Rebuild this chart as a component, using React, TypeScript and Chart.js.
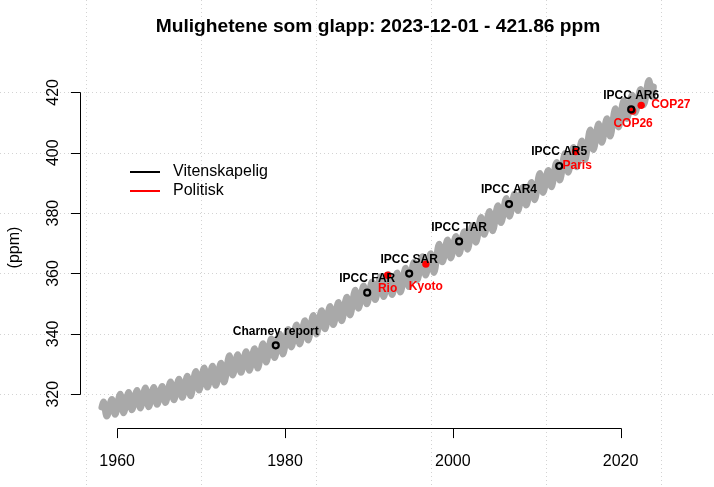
import React, { useEffect, useRef } from "react";
import { Chart, registerables } from "chart.js";

Chart.register(...registerables);

// ---------- data ----------
const titleText = "Mulighetene som glapp: 2023-12-01 - 421.86 ppm";
const yAxisTitle = "(ppm)";

const years = [
  1958, 1959, 1960, 1961, 1962, 1963, 1964, 1965, 1966, 1967,
  1968, 1969, 1970, 1971, 1972, 1973, 1974, 1975, 1976, 1977,
  1978, 1979, 1980, 1981, 1982, 1983, 1984, 1985, 1986, 1987,
  1988, 1989, 1990, 1991, 1992, 1993, 1994, 1995, 1996, 1997,
  1998, 1999, 2000, 2001, 2002, 2003, 2004, 2005, 2006, 2007,
  2008, 2009, 2010, 2011, 2012, 2013, 2014, 2015, 2016, 2017,
  2018, 2019, 2020, 2021, 2022, 2023,
];
// seasonal maximum (May) of each year, ppm
const peakPpm = [
  317.5, 318.3, 320.0, 320.6, 321.3, 322.1, 322.3, 322.6, 324.1, 325.0,
  326.0, 327.6, 328.7, 329.3, 330.3, 332.8, 333.1, 334.1, 335.1, 336.8,
  338.3, 339.9, 341.5, 343.0, 344.4, 346.1, 347.7, 349.1, 350.4, 352.2,
  354.5, 355.9, 357.2, 359.0, 359.6, 360.2, 361.8, 363.8, 365.6, 366.6,
  369.7, 371.1, 372.3, 373.9, 375.9, 378.6, 380.6, 382.5, 384.9, 386.4,
  388.6, 390.2, 393.2, 394.2, 396.8, 399.8, 401.8, 403.9, 407.6, 409.6,
  411.3, 414.6, 417.3, 419.1, 421.0, 424.0,
];
// seasonal minimum (Sep/Oct) of each year, ppm
const troughPpm = [
  312.7, 313.3, 313.8, 314.8, 315.4, 315.8, 316.6, 317.2, 318.1, 318.9,
  319.4, 321.3, 322.3, 322.9, 324.0, 326.3, 327.2, 327.9, 328.6, 330.6,
  332.1, 333.3, 335.6, 336.6, 337.9, 339.9, 341.6, 343.0, 344.3, 346.2,
  348.4, 349.9, 351.3, 352.3, 353.0, 353.8, 355.6, 357.8, 359.4, 360.3,
  363.8, 365.1, 366.5, 368.0, 370.3, 372.9, 374.1, 376.8, 378.9, 380.8,
  382.6, 384.4, 386.8, 388.7, 390.9, 393.5, 395.3, 397.6, 401.0, 403.4,
  405.5, 408.5, 411.3, 413.3, 415.9, 418.5,
];
const peakYearFraction = 0.375; // mid May
const troughYearFraction = 0.75; // end of September
const firstObs = { year: 1958.17, ppm: 315.7 };
const lastObs = { year: 2023.917, ppm: 421.86 };

const sciLabels = ["Charney report", "IPCC FAR", "IPCC SAR", "IPCC TAR", "IPCC AR4", "IPCC AR5", "IPCC AR6"];
const sciYears = [1978.9, 1989.8, 1994.8, 2000.75, 2006.7, 2012.68, 2021.26];
const sciPpm = [336.2, 353.65, 359.97, 370.6, 383.0, 395.6, 414.35];

const polLabels = ["Rio", "Kyoto", "Paris", "COP26", "COP27"];
const polYears = [1992.23, 1996.79, 2014.64, 2021.43, 2022.45];
const polPpm = [359.4, 363.1, 400.4, 413.8, 415.7];

const legendLabels = ["Vitenskapelig", "Politisk"];

const xTicks = [1960, 1980, 2000, 2020];
const yTicks = [320, 340, 360, 380, 400, 420];
// grid lines (every 5000 days from 1970-01-01)
const xGridYears = [1956.31, 1970.0, 1983.69, 1997.38, 2011.07, 2024.76];

// ---------- style ----------
const FONT = '"Liberation Sans", Arial, Helvetica, sans-serif';
const COL_LINE = "#A9A9A9";
const COL_RED = "#FF0000";
const COL_GRID = "#D3D3D3";
const polLabelStyle = [
  { dx: 0, dy: 13.5, align: "center" },
  { dx: 0, dy: 22.4, align: "center" },
  { dx: 1.5, dy: 14, align: "center" },
  { dx: 0.5, dy: 12.6, align: "center" },
  { dx: 10, dy: -1, align: "left" },
];

const rPlot = {
  id: "rplot",
  beforeDatasetsDraw(chart: any) {
    const { ctx, width, height } = chart;
    const xs = chart.scales.x;
    const ys = chart.scales.y;
    ctx.save();
    ctx.strokeStyle = COL_GRID;
    ctx.lineWidth = 1;
    ctx.setLineDash([1, 3]);
    xGridYears.forEach((g) => {
      const px = Math.round(xs.getPixelForValue(g)) + 0.5;
      ctx.beginPath();
      ctx.moveTo(px, 0);
      ctx.lineTo(px, height);
      ctx.stroke();
    });
    yTicks.forEach((t) => {
      const py = Math.round(ys.getPixelForValue(t)) + 0.5;
      ctx.beginPath();
      ctx.moveTo(0, py);
      ctx.lineTo(width, py);
      ctx.stroke();
    });
    ctx.restore();
  },
  afterDatasetsDraw(chart: any) {
    const { ctx, chartArea } = chart;
    const xs = chart.scales.x;
    const ys = chart.scales.y;
    const tick = 9.6;
    ctx.save();
    ctx.strokeStyle = "#000";
    ctx.fillStyle = "#000";
    ctx.lineWidth = 1;
    ctx.setLineDash([]);

    // x axis
    const ay = Math.round(chartArea.bottom) + 0.5;
    const x0 = Math.round(xs.getPixelForValue(xTicks[0])) + 0.5;
    const x1 = Math.round(xs.getPixelForValue(xTicks[xTicks.length - 1])) + 0.5;
    ctx.beginPath();
    ctx.moveTo(x0, ay);
    ctx.lineTo(x1, ay);
    xTicks.forEach((t) => {
      const px = Math.round(xs.getPixelForValue(t)) + 0.5;
      ctx.moveTo(px, ay);
      ctx.lineTo(px, ay + tick);
    });
    ctx.stroke();
    ctx.font = `16px ${FONT}`;
    ctx.textAlign = "center";
    ctx.textBaseline = "middle";
    xTicks.forEach((t) => {
      ctx.fillText(String(t), xs.getPixelForValue(t), ay + 33);
    });

    // y axis
    const ax = Math.round(chartArea.left) + 0.5;
    const y0 = Math.round(ys.getPixelForValue(yTicks[0])) + 0.5;
    const y1 = Math.round(ys.getPixelForValue(yTicks[yTicks.length - 1])) + 0.5;
    ctx.beginPath();
    ctx.moveTo(ax, y0);
    ctx.lineTo(ax, y1);
    yTicks.forEach((t) => {
      const py = Math.round(ys.getPixelForValue(t)) + 0.5;
      ctx.moveTo(ax, py);
      ctx.lineTo(ax - tick, py);
    });
    ctx.stroke();
    yTicks.forEach((t) => {
      ctx.save();
      ctx.translate(ax - 27, ys.getPixelForValue(t));
      ctx.rotate(-Math.PI / 2);
      ctx.fillText(String(t), 0, 0);
      ctx.restore();
    });
    ctx.save();
    ctx.translate(15, (chartArea.top + chartArea.bottom) / 2);
    ctx.rotate(-Math.PI / 2);
    ctx.fillText(yAxisTitle, 0, 0);
    ctx.restore();

    // title
    ctx.font = `bold 19.2px ${FONT}`;
    ctx.fillText(titleText, (chartArea.left + chartArea.right) / 2, 27);

    // legend
    const lgX = 130;
    const lgY = [172, 191];
    const lgCol = ["#000", COL_RED];
    ctx.font = `16px ${FONT}`;
    ctx.textAlign = "left";
    legendLabels.forEach((lab, i) => {
      ctx.strokeStyle = lgCol[i];
      ctx.lineWidth = 2;
      ctx.beginPath();
      ctx.moveTo(lgX, lgY[i]);
      ctx.lineTo(lgX + 30, lgY[i]);
      ctx.stroke();
      ctx.fillStyle = "#000";
      ctx.fillText(lab, lgX + 43, lgY[i]);
    });

    // event labels
    ctx.font = `bold 12px ${FONT}`;
    const sciMeta = chart.getDatasetMeta(0);
    ctx.textAlign = "center";
    ctx.fillStyle = "#000";
    sciMeta.data.forEach((pt: any, i: number) => {
      ctx.fillText(sciLabels[i], pt.x, pt.y - 14);
    });
    const polMeta = chart.getDatasetMeta(1);
    ctx.fillStyle = COL_RED;
    polMeta.data.forEach((pt: any, i: number) => {
      const s = polLabelStyle[i];
      ctx.textAlign = s.align;
      ctx.fillText(polLabels[i], pt.x + s.dx, pt.y + s.dy);
    });
    ctx.restore();
  },
};

export default function App() {
  const ref = useRef<HTMLCanvasElement>(null);
  useEffect(() => {
    document.body.style.margin = "0";
    const canvas = ref.current!;
    const co2: { x: number; y: number }[] = [{ x: firstObs.year, y: firstObs.ppm }];
    years.forEach((yr, i) => {
      co2.push({ x: yr + peakYearFraction, y: peakPpm[i] });
      co2.push({ x: yr + troughYearFraction, y: troughPpm[i] });
    });
    co2.push({ x: lastObs.year, y: lastObs.ppm });

    const chart = new Chart(canvas, {
      type: "scatter",
      data: {
        datasets: [
          {
            label: legendLabels[0],
            data: sciYears.map((x, i) => ({ x, y: sciPpm[i] })),
            showLine: false,
            pointRadius: 3,
            pointBorderWidth: 2.2,
            pointBorderColor: "#000",
            pointBackgroundColor: "rgba(0,0,0,0)",
            order: 1,
          },
          {
            label: legendLabels[1],
            data: polYears.map((x, i) => ({ x, y: polPpm[i] })),
            showLine: false,
            pointRadius: 3.7,
            pointBorderWidth: 0,
            pointBorderColor: COL_RED,
            pointBackgroundColor: COL_RED,
            order: 2,
          },
          {
            label: "CO2",
            data: co2,
            showLine: true,
            borderColor: COL_LINE,
            borderWidth: 6.7,
            borderCapStyle: "round",
            borderJoinStyle: "round",
            cubicInterpolationMode: "monotone",
            pointRadius: 0,
            order: 3,
          },
        ],
      },
      options: {
        responsive: false,
        animation: false,
        events: [],
        layout: { padding: { left: 80, right: 38, top: 67, bottom: 59 } },
        scales: {
          x: { type: "linear", display: false, min: 1955.57, max: 2026.6 },
          y: { type: "linear", display: false, min: 308.8, max: 428.4 },
        },
        plugins: {
          legend: { display: false },
          tooltip: { enabled: false },
          title: { display: false },
        },
      },
      plugins: [rPlot],
    } as any);
    return () => chart.destroy();
  }, []);
  return <canvas ref={ref} width={714} height={487} style={{ display: "block" }} />;
}
